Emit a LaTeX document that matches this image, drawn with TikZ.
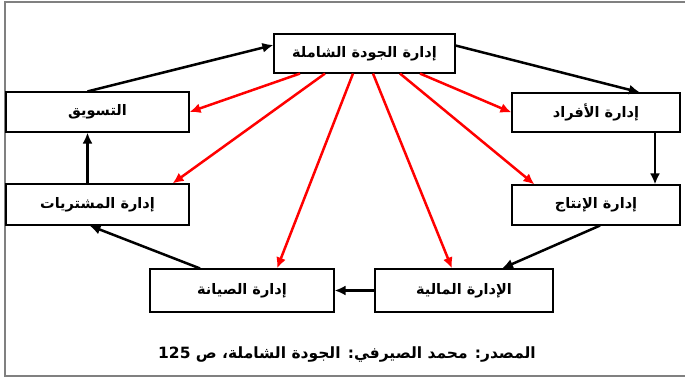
\documentclass[tikz,border=0pt]{standalone}
\usepackage{fontspec}
\TeXXeTstate=1
\newfontfamily\arabicfont[Script=Arabic]{DejaVu Sans}
\usetikzlibrary{arrows.meta}
\tikzset{
  box/.style={draw=black, line width=1.1pt, fill=white, inner sep=0pt, font=\arabicfont\bfseries\fontsize{14.5}{17}\selectfont},
  blk/.style={draw=black, line width=2.5pt, -{Latex[length=11pt,width=10pt]}},
  redarr/.style={draw=red, line width=2.5pt, -{Latex[length=11pt,width=10pt]}},
}
\begin{document}
\begin{tikzpicture}[x=1pt,y=-1pt]
\useasboundingbox (0,0) rectangle (685,379);
\clip (0,0) rectangle (685,379);
\draw[gray, line width=1.6pt] (700,2) -- (5,2) -- (5,376) -- (700,376);
\node[box, minimum width=181pt, minimum height=39pt] (top) at (364.5,53.5) {\beginR إدارة الجودة الشاملة\endR};
\node[box, minimum width=183pt, minimum height=40pt] (mkt) at (97.5,112) {\beginR التسويق\endR};
\node[box, minimum width=168pt, minimum height=39pt] (hr) at (596,112.5) {\beginR إدارة الأفراد\endR};
\node[box, minimum width=183pt, minimum height=41pt] (pur) at (97.5,204.5) {\beginR إدارة المشتريات\endR};
\node[box, minimum width=168pt, minimum height=40pt] (prod) at (596,205) {\beginR إدارة الإنتاج\endR};
\node[box, minimum width=184pt, minimum height=43pt] (maint) at (242,290.5) {\beginR إدارة الصيانة\endR};
\node[box, minimum width=178pt, minimum height=43pt] (fin) at (464,290.5) {\beginR الإدارة المالية\endR};
\node[font=\arabicfont\bfseries\fontsize{15.5}{18}\selectfont] (src) at (347,355) {\beginR المصدر: محمد الصيرفي: الجودة الشاملة، ص \beginL125\endL\endR};
% red arrows
\draw[redarr] ([xshift=-64.5pt]top.south) -- (mkt.east);
\draw[redarr] ([xshift=-39.5pt]top.south) -- ([xshift=-17pt]pur.north east);
\draw[redarr] ([xshift=-11.5pt]top.south) -- ([xshift=35pt]maint.north);
\draw[redarr] ([xshift=8.5pt]top.south) -- ([xshift=-12pt]fin.north);
\draw[redarr] ([xshift=35.5pt]top.south) -- ([xshift=23pt]prod.north west);
\draw[redarr] ([xshift=55.5pt]top.south) -- (hr.west);
% black arrows
\draw[blk] ([xshift=-10pt]mkt.north) -- ([yshift=8.5pt]top.west);
\draw[blk] ([yshift=8pt]top.east) -- ([xshift=44pt]hr.north);
\draw[blk] ([xshift=59pt]hr.south) -- ([xshift=59pt]prod.north);
\draw[blk] ([xshift=4pt]prod.south) -- ([xshift=38pt]fin.north);
\draw[blk] (fin.west) -- (maint.east);
\draw[blk] ([xshift=-42pt]maint.north) -- ([xshift=-8pt]pur.south);
\draw[blk] ([xshift=-10pt]pur.north) -- ([xshift=-10pt]mkt.south);
\end{tikzpicture}
\end{document}
